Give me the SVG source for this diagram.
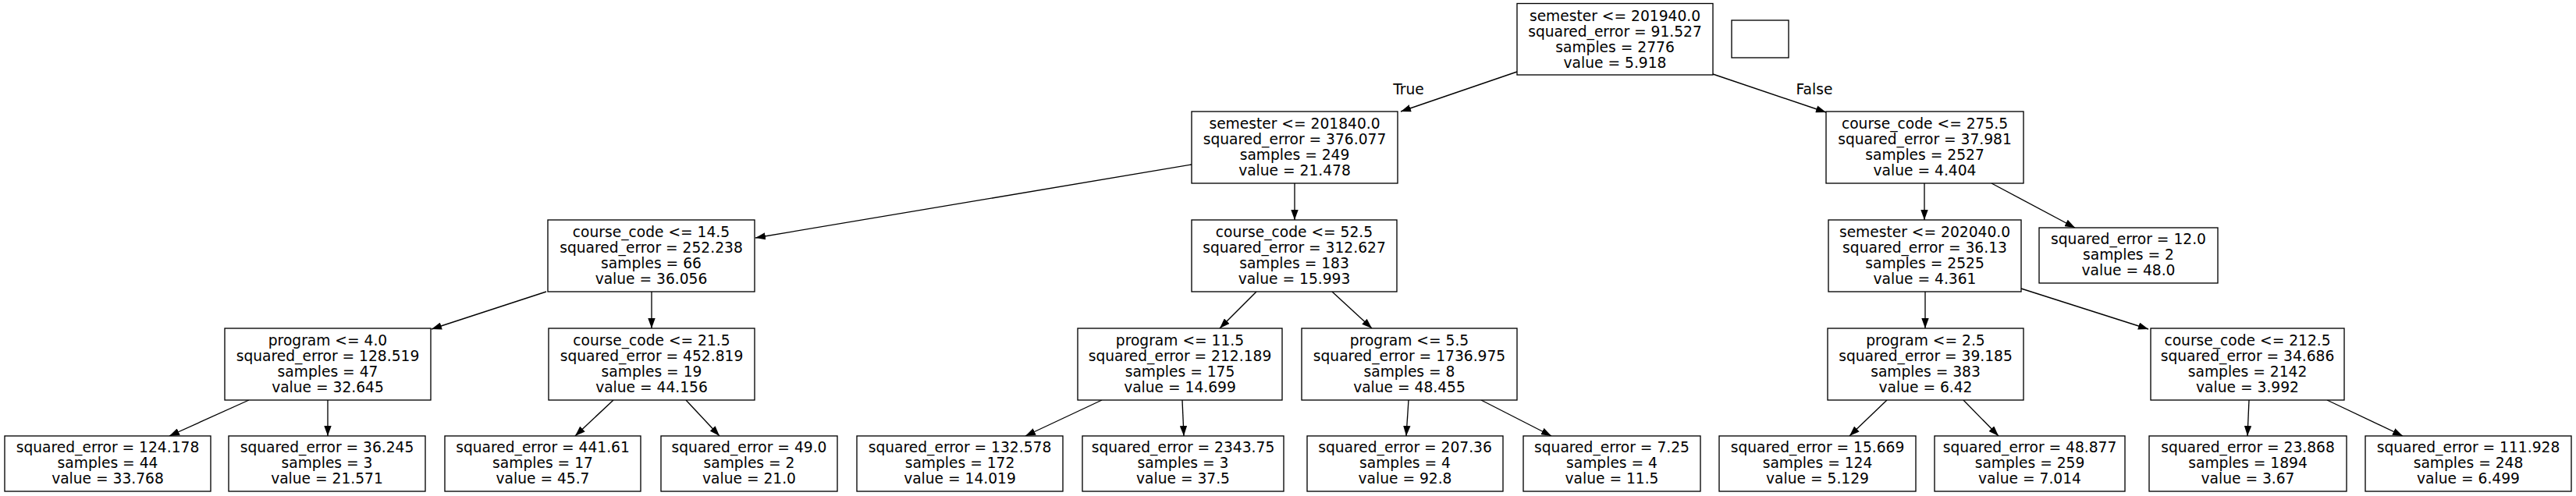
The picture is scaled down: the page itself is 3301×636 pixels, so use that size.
<svg xmlns="http://www.w3.org/2000/svg" width="3301" height="636" viewBox="0 0 3301 636">
<style>
.n rect{fill:#fff;stroke:#000;stroke-width:1.33}
text{font-family:"DejaVu Sans","Liberation Sans",sans-serif;font-size:18.67px;fill:#000;text-anchor:middle}
.e line{stroke:#000;stroke-width:1.33;marker-end:url(#ah)}
</style>
<defs>
<marker id="ah" viewBox="0 0 13 9.4" refX="13" refY="4.7" markerWidth="13" markerHeight="9.4" markerUnits="userSpaceOnUse" orient="auto">
<path d="M0,0 L13,4.7 L0,9.4 z" fill="#000"/>
</marker>
</defs>
<rect x="0" y="0" width="3301" height="636" fill="#fff"/>
<g class="e" id="edges">
<line x1="1944" y1="92" x2="1795" y2="143"/>
<line x1="2195" y1="95" x2="2340" y2="144"/>
<line x1="1527" y1="211" x2="968" y2="305"/>
<line x1="1659" y1="235" x2="1659" y2="282"/>
<line x1="700" y1="374" x2="553" y2="422"/>
<line x1="835" y1="374" x2="835" y2="421"/>
<line x1="319" y1="513" x2="217" y2="559"/>
<line x1="420" y1="513" x2="420" y2="559"/>
<line x1="786" y1="513" x2="737" y2="559"/>
<line x1="879" y1="513" x2="922" y2="559"/>
<line x1="1610" y1="374" x2="1563" y2="421"/>
<line x1="1707" y1="374" x2="1758" y2="421"/>
<line x1="1412" y1="513" x2="1314" y2="559"/>
<line x1="1515" y1="513" x2="1517" y2="559"/>
<line x1="1805" y1="513" x2="1802" y2="559"/>
<line x1="1898" y1="513" x2="1988" y2="559"/>
<line x1="2466" y1="235" x2="2466" y2="282"/>
<line x1="2552" y1="235" x2="2659" y2="292"/>
<line x1="2467" y1="374" x2="2467" y2="421"/>
<line x1="2590" y1="370" x2="2753" y2="422"/>
<line x1="2418" y1="513" x2="2370" y2="559"/>
<line x1="2516" y1="513" x2="2561" y2="559"/>
<line x1="2882" y1="513" x2="2880" y2="559"/>
<line x1="2982" y1="513" x2="3079" y2="559"/>
<text x="1805" y="121">True</text>
<text x="2325" y="121">False</text>
</g>
<g class="n" id="n0"><rect x="1944" y="4.5" width="251" height="91.5"/>
<text x="2069.5" y="26.5">semester &lt;= 201940.0</text><text x="2069.5" y="46.5">squared_error = 91.527</text><text x="2069.5" y="66.5">samples = 2776</text><text x="2069.5" y="86.5">value = 5.918</text></g>
<g class="n" id="nblank"><rect x="2219" y="26" width="73" height="48"/></g>
<g class="n" id="n1"><rect x="1527" y="143" width="264" height="92"/>
<text x="1659" y="165">semester &lt;= 201840.0</text><text x="1659" y="185">squared_error = 376.077</text><text x="1659" y="205">samples = 249</text><text x="1659" y="225">value = 21.478</text></g>
<g class="n" id="n16"><rect x="2340" y="143" width="253" height="92"/>
<text x="2466.5" y="165">course_code &lt;= 275.5</text><text x="2466.5" y="185">squared_error = 37.981</text><text x="2466.5" y="205">samples = 2527</text><text x="2466.5" y="225">value = 4.404</text></g>
<g class="n" id="n2"><rect x="702" y="282" width="265" height="92"/>
<text x="834.5" y="304">course_code &lt;= 14.5</text><text x="834.5" y="324">squared_error = 252.238</text><text x="834.5" y="344">samples = 66</text><text x="834.5" y="364">value = 36.056</text></g>
<g class="n" id="n9"><rect x="1527" y="282" width="263" height="92"/>
<text x="1658.5" y="304">course_code &lt;= 52.5</text><text x="1658.5" y="324">squared_error = 312.627</text><text x="1658.5" y="344">samples = 183</text><text x="1658.5" y="364">value = 15.993</text></g>
<g class="n" id="n17"><rect x="2343" y="282" width="247" height="92"/>
<text x="2466.5" y="304">semester &lt;= 202040.0</text><text x="2466.5" y="324">squared_error = 36.13</text><text x="2466.5" y="344">samples = 2525</text><text x="2466.5" y="364">value = 4.361</text></g>
<g class="n" id="n24"><rect x="2613" y="292" width="229" height="71"/>
<text x="2727.5" y="313">squared_error = 12.0</text><text x="2727.5" y="333">samples = 2</text><text x="2727.5" y="353">value = 48.0</text></g>
<g class="n" id="n3"><rect x="288" y="421" width="264" height="92"/>
<text x="420" y="443">program &lt;= 4.0</text><text x="420" y="463">squared_error = 128.519</text><text x="420" y="483">samples = 47</text><text x="420" y="503">value = 32.645</text></g>
<g class="n" id="n6"><rect x="703" y="421" width="264" height="92"/>
<text x="835" y="443">course_code &lt;= 21.5</text><text x="835" y="463">squared_error = 452.819</text><text x="835" y="483">samples = 19</text><text x="835" y="503">value = 44.156</text></g>
<g class="n" id="n10"><rect x="1381" y="421" width="262" height="92"/>
<text x="1512" y="443">program &lt;= 11.5</text><text x="1512" y="463">squared_error = 212.189</text><text x="1512" y="483">samples = 175</text><text x="1512" y="503">value = 14.699</text></g>
<g class="n" id="n13"><rect x="1668" y="421" width="276" height="92"/>
<text x="1806" y="443">program &lt;= 5.5</text><text x="1806" y="463">squared_error = 1736.975</text><text x="1806" y="483">samples = 8</text><text x="1806" y="503">value = 48.455</text></g>
<g class="n" id="n18"><rect x="2342" y="421" width="251" height="92"/>
<text x="2467.5" y="443">program &lt;= 2.5</text><text x="2467.5" y="463">squared_error = 39.185</text><text x="2467.5" y="483">samples = 383</text><text x="2467.5" y="503">value = 6.42</text></g>
<g class="n" id="n21"><rect x="2756" y="421" width="248" height="92"/>
<text x="2880" y="443">course_code &lt;= 212.5</text><text x="2880" y="463">squared_error = 34.686</text><text x="2880" y="483">samples = 2142</text><text x="2880" y="503">value = 3.992</text></g>
<g class="n" id="n4"><rect x="6" y="559" width="264" height="71"/>
<text x="138" y="580">squared_error = 124.178</text><text x="138" y="600">samples = 44</text><text x="138" y="620">value = 33.768</text></g>
<g class="n" id="n5"><rect x="293" y="559" width="252" height="71"/>
<text x="419" y="580">squared_error = 36.245</text><text x="419" y="600">samples = 3</text><text x="419" y="620">value = 21.571</text></g>
<g class="n" id="n7"><rect x="570" y="559" width="251" height="71"/>
<text x="695.5" y="580">squared_error = 441.61</text><text x="695.5" y="600">samples = 17</text><text x="695.5" y="620">value = 45.7</text></g>
<g class="n" id="n8"><rect x="847" y="559" width="226" height="71"/>
<text x="960" y="580">squared_error = 49.0</text><text x="960" y="600">samples = 2</text><text x="960" y="620">value = 21.0</text></g>
<g class="n" id="n11"><rect x="1098" y="559" width="264" height="71"/>
<text x="1230" y="580">squared_error = 132.578</text><text x="1230" y="600">samples = 172</text><text x="1230" y="620">value = 14.019</text></g>
<g class="n" id="n12"><rect x="1387" y="559" width="258" height="71"/>
<text x="1516" y="580">squared_error = 2343.75</text><text x="1516" y="600">samples = 3</text><text x="1516" y="620">value = 37.5</text></g>
<g class="n" id="n14"><rect x="1675" y="559" width="251" height="71"/>
<text x="1800.5" y="580">squared_error = 207.36</text><text x="1800.5" y="600">samples = 4</text><text x="1800.5" y="620">value = 92.8</text></g>
<g class="n" id="n15"><rect x="1952" y="559" width="227" height="71"/>
<text x="2065.5" y="580">squared_error = 7.25</text><text x="2065.5" y="600">samples = 4</text><text x="2065.5" y="620">value = 11.5</text></g>
<g class="n" id="n19"><rect x="2203" y="559" width="252" height="71"/>
<text x="2329" y="580">squared_error = 15.669</text><text x="2329" y="600">samples = 124</text><text x="2329" y="620">value = 5.129</text></g>
<g class="n" id="n20"><rect x="2479" y="559" width="244" height="71"/>
<text x="2601" y="580">squared_error = 48.877</text><text x="2601" y="600">samples = 259</text><text x="2601" y="620">value = 7.014</text></g>
<g class="n" id="n22"><rect x="2754" y="559" width="253" height="71"/>
<text x="2880.5" y="580">squared_error = 23.868</text><text x="2880.5" y="600">samples = 1894</text><text x="2880.5" y="620">value = 3.67</text></g>
<g class="n" id="n23"><rect x="3031" y="559" width="264" height="71"/>
<text x="3163" y="580">squared_error = 111.928</text><text x="3163" y="600">samples = 248</text><text x="3163" y="620">value = 6.499</text></g>
</svg>
